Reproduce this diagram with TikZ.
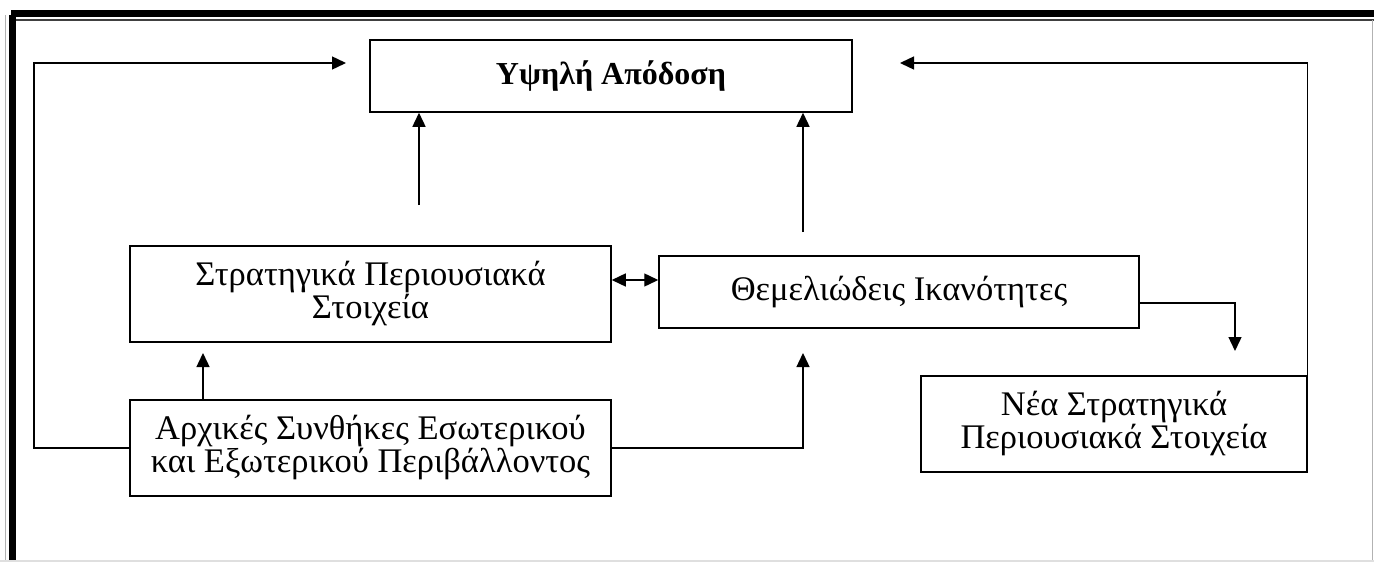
\documentclass[tikz,border=0pt]{standalone}
\usepackage{fontspec}
\setmainfont{Liberation Serif}
\usetikzlibrary{arrows.meta}
\begin{document}
\begin{tikzpicture}[x=1pt,y=-1pt,
  box/.style={draw, line width=1.5pt, fill=white, inner sep=0pt, align=center,
              font=\fontsize{34.5}{33}\selectfont},
  link/.style={line width=1.4pt, -{Triangle[length=14pt,width=13pt]}},
  both/.style={line width=1.4pt, {Triangle[length=14pt,width=13pt]}-{Triangle[length=14pt,width=13pt]}}]
\useasboundingbox (0,0) rectangle (1374,562);
% page frame
\fill[gray!60] (4.5,15) rectangle (5.7,562);
\fill[black] (9,15) rectangle (16,562);
\fill[black] (10.7,10) rectangle (1374,16.7);
\fill[black!75] (16,19.2) rectangle (1374,20.6);
\fill[gray!60] (1372.2,20) rectangle (1373.4,562);
\fill[gray!25] (0,560.3) rectangle (1374,561.5);

% boxes
\node[box, minimum width=482pt, minimum height=72pt,
      font=\fontsize{32}{33}\selectfont\bfseries] (top) at (611,76) {Υψηλή Απόδοση};
\node[box, minimum width=481pt, minimum height=96pt] (sa) at (370.5,294)
  {Στρατηγικά Περιουσιακά\\Στοιχεία};
\node[box, minimum width=480pt, minimum height=72pt] (th) at (899,292)
  {Θεμελιώδεις Ικανότητες};
\node[box, minimum width=481pt, minimum height=96pt] (ar) at (370.5,448)
  {Αρχικές Συνθήκες Εσωτερικού\\και Εξωτερικού Περιβάλλοντος};
\node[box, minimum width=386pt, minimum height=96pt] (nea) at (1114,424)
  {Νέα Στρατηγικά\\Περιουσιακά Στοιχεία};

% free ends of the connectors
\coordinate (fbLtop) at (34,63);
\coordinate (fbLend) at (346,63);
\coordinate (fbRend) at (900,63);
\coordinate (saUp) at (419,205);
\coordinate (thUp) at (803,232);
\coordinate (arTip) at (203,353);
\coordinate (thTip) at (803,353);
\coordinate (neaTip) at (1235,351);
\coordinate (dbl) at (0,280);

% connectors
\draw[link] (ar.west) -| (fbLtop) -- (fbLend);
\draw[link] (nea.north east) |- (fbRend);
\draw[link] (saUp) -- (saUp |- top.south);
\draw[link] (thUp) -- (thUp |- top.south);
\draw[link] (arTip |- ar.north) -- (arTip);
\draw[link] (ar.east) -| (thTip);
\draw[link] ([yshift=-11pt]th.east) -| (neaTip);
\draw[both] (sa.east |- dbl) -- (th.west |- dbl);
\end{tikzpicture}
\end{document}
